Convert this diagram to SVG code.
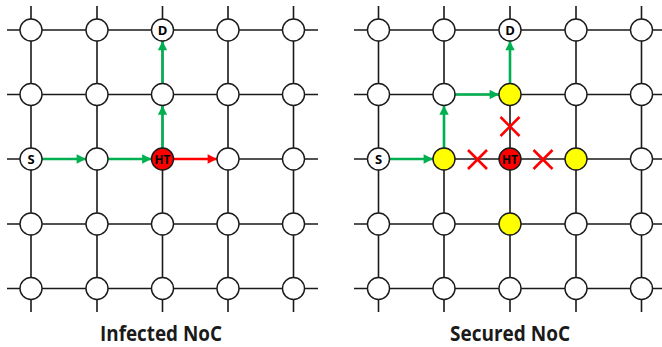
<svg xmlns="http://www.w3.org/2000/svg" width="662" height="347" viewBox="0 0 662 347">
<defs>
<style>
.grid{stroke:#1a1a1a;stroke-width:1.6;fill:none}
.n{fill:#fff;stroke:#1a1a1a;stroke-width:1.4}
.ht{fill:#ff0000;stroke:#1a1a1a;stroke-width:1.4}
.y{fill:#ffff00;stroke:#1a1a1a;stroke-width:1.4}
.lbl{font-family:"Open Sans","Liberation Sans",sans-serif;font-weight:bold;font-size:13px;fill:#000;text-anchor:middle;dominant-baseline:central}
.g{stroke:#00b050;stroke-width:2.6;fill:none}
.r{stroke:#ff0000;stroke-width:2.6;fill:none}
.x{stroke:#ff0000;stroke-width:2.6;fill:none}
.title{font-family:"Open Sans","Liberation Sans",sans-serif;font-weight:bold;font-size:21px;fill:#1a1a1a;text-anchor:middle}
</style>
<marker id="ag" viewBox="0 0 10 10" refX="10" refY="5" markerWidth="4" markerHeight="3.6" orient="auto" markerUnits="strokeWidth"><path d="M0,0 L10,5 L0,10 z" fill="#00b050"/></marker>
<marker id="ar" viewBox="0 0 10 10" refX="10" refY="5" markerWidth="4" markerHeight="3.6" orient="auto" markerUnits="strokeWidth"><path d="M0,0 L10,5 L0,10 z" fill="#ff0000"/></marker>
</defs>
<g id="grid-left" class="grid">
<path d="M7,30H318M7,94.5H318M7,159H318M7,224H318M7,288.5H318"/>
<path d="M31,6V312M97,6V312M162.5,6V312M228,6V312M293.5,6V312"/>
</g>
<g id="grid-right" class="grid">
<path d="M354,30H662M354,94.5H662M354,159H662M354,224H662M354,288.5H662"/>
<path d="M378.5,6V312M444,6V312M510,6V312M576,6V312M641.5,6V312"/>
</g>
<g id="connectors">
<line class="g" x1="42" y1="159" x2="86" y2="159" marker-end="url(#ag)"/>
<line class="g" x1="108" y1="159" x2="151.5" y2="159" marker-end="url(#ag)"/>
<line class="r" x1="173.5" y1="159" x2="217" y2="159" marker-end="url(#ar)"/>
<line class="g" x1="162.5" y1="148" x2="162.5" y2="105.5" marker-end="url(#ag)"/>
<line class="g" x1="162.5" y1="83.5" x2="162.5" y2="41" marker-end="url(#ag)"/>
<line class="g" x1="389.5" y1="159" x2="433" y2="159" marker-end="url(#ag)"/>
<line class="g" x1="444" y1="148" x2="444" y2="105.5" marker-end="url(#ag)"/>
<line class="g" x1="455" y1="94.5" x2="499" y2="94.5" marker-end="url(#ag)"/>
<line class="g" x1="510" y1="83.5" x2="510" y2="41" marker-end="url(#ag)"/>
</g>
<g id="nodes-left">
<g id="L-r0"><circle class="n" cx="31" cy="30" r="11"/><circle class="n" cx="97" cy="30" r="11"/><circle class="n" cx="228" cy="30" r="11"/><circle class="n" cx="293.5" cy="30" r="11"/></g>
<g id="L-D"><circle class="n" cx="162.5" cy="30" r="11"/><text class="lbl" x="162.5" y="30">D</text></g>
<g id="L-r1"><circle class="n" cx="31" cy="94.5" r="11"/><circle class="n" cx="97" cy="94.5" r="11"/><circle class="n" cx="162.5" cy="94.5" r="11"/><circle class="n" cx="228" cy="94.5" r="11"/><circle class="n" cx="293.5" cy="94.5" r="11"/></g>
<g id="L-S"><circle class="n" cx="31" cy="159" r="11"/><text class="lbl" x="31" y="159">S</text></g>
<g id="L-r2"><circle class="n" cx="97" cy="159" r="11"/><circle class="n" cx="228" cy="159" r="11"/><circle class="n" cx="293.5" cy="159" r="11"/></g>
<g id="L-HT"><circle class="ht" cx="162.5" cy="159" r="11"/><text class="lbl" x="162.5" y="159" style="font-size:12px" textLength="16" lengthAdjust="spacingAndGlyphs">HT</text></g>
<g id="L-r3"><circle class="n" cx="31" cy="224" r="11"/><circle class="n" cx="97" cy="224" r="11"/><circle class="n" cx="162.5" cy="224" r="11"/><circle class="n" cx="228" cy="224" r="11"/><circle class="n" cx="293.5" cy="224" r="11"/></g>
<g id="L-r4"><circle class="n" cx="31" cy="288.5" r="11"/><circle class="n" cx="97" cy="288.5" r="11"/><circle class="n" cx="162.5" cy="288.5" r="11"/><circle class="n" cx="228" cy="288.5" r="11"/><circle class="n" cx="293.5" cy="288.5" r="11"/></g>
</g>
<g id="nodes-right">
<g id="R-r0"><circle class="n" cx="378.5" cy="30" r="11"/><circle class="n" cx="444" cy="30" r="11"/><circle class="n" cx="576" cy="30" r="11"/><circle class="n" cx="641.5" cy="30" r="11"/></g>
<g id="R-D"><circle class="n" cx="510" cy="30" r="11"/><text class="lbl" x="510" y="30">D</text></g>
<g id="R-r1"><circle class="n" cx="378.5" cy="94.5" r="11"/><circle class="n" cx="444" cy="94.5" r="11"/><circle class="y" cx="510" cy="94.5" r="11"/><circle class="n" cx="576" cy="94.5" r="11"/><circle class="n" cx="641.5" cy="94.5" r="11"/></g>
<g id="R-S"><circle class="n" cx="378.5" cy="159" r="11"/><text class="lbl" x="378.5" y="159">S</text></g>
<g id="R-r2"><circle class="y" cx="444" cy="159" r="11"/><circle class="y" cx="576" cy="159" r="11"/><circle class="n" cx="641.5" cy="159" r="11"/></g>
<g id="R-HT"><circle class="ht" cx="510" cy="159" r="11"/><text class="lbl" x="510" y="159" style="font-size:12px" textLength="16" lengthAdjust="spacingAndGlyphs">HT</text></g>
<g id="R-r3"><circle class="n" cx="378.5" cy="224" r="11"/><circle class="n" cx="444" cy="224" r="11"/><circle class="y" cx="510" cy="224" r="11"/><circle class="n" cx="576" cy="224" r="11"/><circle class="n" cx="641.5" cy="224" r="11"/></g>
<g id="R-r4"><circle class="n" cx="378.5" cy="288.5" r="11"/><circle class="n" cx="444" cy="288.5" r="11"/><circle class="n" cx="510" cy="288.5" r="11"/><circle class="n" cx="576" cy="288.5" r="11"/><circle class="n" cx="641.5" cy="288.5" r="11"/></g>
</g>
<g id="crosses" class="x">
<path d="M468,150L487,169M487,150L468,169"/>
<path d="M533.5,150L552.5,169M552.5,150L533.5,169"/>
<path d="M500.5,117L519.5,136M519.5,117L500.5,136"/>
</g>
<text class="title" x="161" y="341" textLength="122" lengthAdjust="spacingAndGlyphs">Infected NoC</text>
<text class="title" x="510" y="341" textLength="120" lengthAdjust="spacingAndGlyphs">Secured NoC</text>
</svg>
